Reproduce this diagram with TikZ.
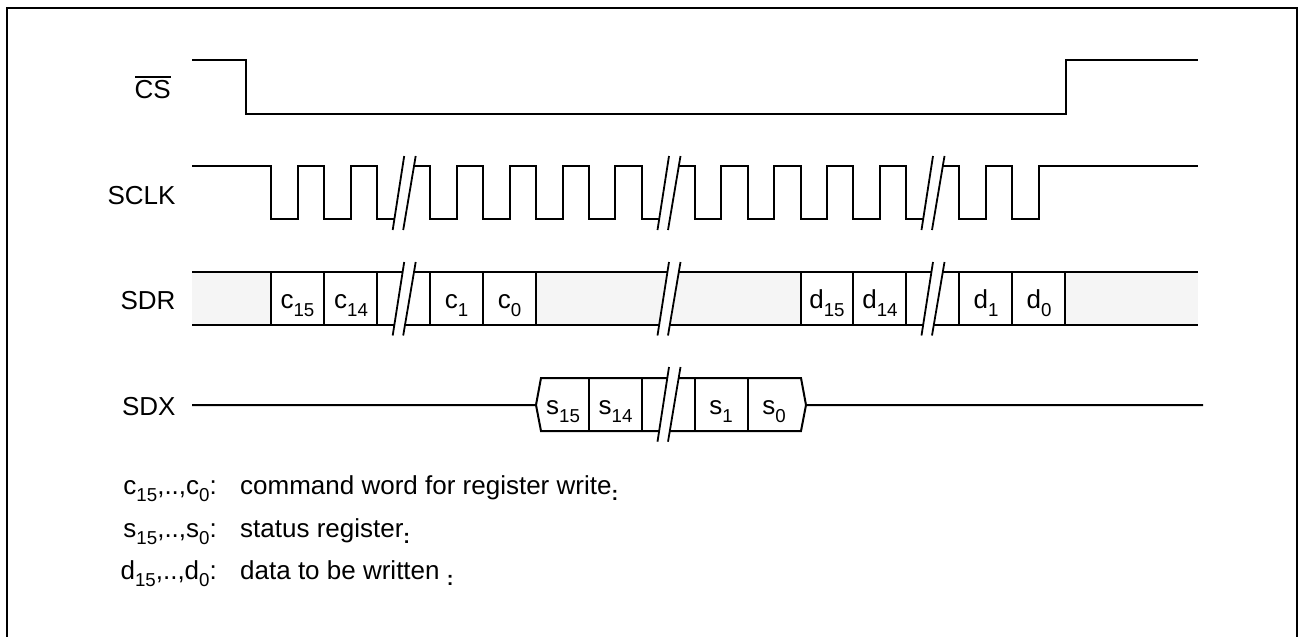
\documentclass[tikz,border=0pt]{standalone}
\usepackage{fontspec}
\setmainfont{Liberation Sans}
\newcommand{\lsub}[1]{\raisebox{-7.3pt}{\fontsize{18.7}{20}\selectfont #1}}
\newcommand{\tinycolon}{\raisebox{-6pt}{\fontsize{20}{22}\selectfont\bfseries :}}
\tikzset{
  x=1pt,y=-1pt,
  wave/.style={line width=2pt,line join=miter,line cap=butt},
  framel/.style={line width=2.4pt},
  busfill/.style={fill=black!4,draw=none},
  sig/.style={anchor=base east,inner sep=0pt,font=\fontsize{26}{30}\selectfont},
  cell/.style={anchor=base,inner sep=0pt,font=\fontsize{26}{30}\selectfont},
  legl/.style={anchor=base east,inner sep=0pt,font=\fontsize{26}{30}\selectfont},
  legt/.style={anchor=base west,inner sep=0pt,font=\fontsize{26}{30}\selectfont},
  brk/.style={line width=1.8pt},
  ticks/.style={line width=2pt}
}
\newcommand{\brkmark}[3]{% x-left, y-top, y-bottom
  \fill[white] (#1,#3) -- (#1+11.5,#2) -- (#1+23,#2) -- (#1+10.5,#3) -- cycle;
  \draw[brk] (#1,#3) -- (#1+11.5,#2);
  \draw[brk] (#1+10.5,#3) -- (#1+23,#2);
}
\begin{document}
\begin{tikzpicture}
\useasboundingbox (0,0) rectangle (1299,637);
% frame (open at the bottom)
\draw[framel] (7,637) -- (7,7.8) -- (1297,7.8) -- (1297,637);

% CS
\draw[wave] (192,60) -- (246,60) -- (246,114) -- (1066,114) -- (1066,60) -- (1197.5,60);
\node[sig] (lcs) at (171,98.3) {CS};
\draw[line width=1.6pt] (135,77) -- (171,77);

% SCLK
\draw[wave] (192,166) -- (271,166) -- (271,218.7) -- (297.5,218.7) -- (297.5,166) -- (324,166) -- (324,218.7) -- (351,218.7) -- (351,166) -- (377,166) -- (377,218.7) -- (394,218.7);
\draw[wave] (414,166) -- (430,166) -- (430,218.7) -- (456.5,218.7) -- (456.5,166) -- (483,166) -- (483,218.7) -- (509.5,218.7) -- (509.5,166) -- (536,166) -- (536,218.7) -- (562.5,218.7) -- (562.5,166) -- (589,166) -- (589,218.7) -- (615,218.7) -- (615,166) -- (642,166) -- (642,218.7) -- (659,218.7);
\draw[wave] (678,166) -- (695,166) -- (695,218.7) -- (721,218.7) -- (721,166) -- (748,166) -- (748,218.7) -- (774,218.7) -- (774,166) -- (801,166) -- (801,218.7) -- (827,218.7) -- (827,166) -- (853,166) -- (853,218.7) -- (880,218.7) -- (880,166) -- (906,166) -- (906,218.7) -- (923,218.7);
\draw[wave] (942,166) -- (959,166) -- (959,218.7) -- (986,218.7) -- (986,166) -- (1012,166) -- (1012,218.7) -- (1039,218.7) -- (1039,166) -- (1197.5,166);
\brkmark{392.7}{156}{230}
\brkmark{657.5}{156}{230}
\brkmark{921.5}{156}{230}
\node[sig] (lsclk) at (175.7,204) {SCLK};

% SDR
\fill[busfill] (192,272) rectangle (271,325);
\fill[busfill] (536,272) rectangle (801,325);
\fill[busfill] (1065,272) rectangle (1197.5,325);
\draw[wave] (192,272) -- (1197.5,272);
\draw[wave] (192,325) -- (1197.5,325);
\foreach \xv in {271,324,377,430,483,536,801,853,906,959,1012,1065}
  \draw[ticks] (\xv,272) -- (\xv,325);
\brkmark{392.7}{262}{335.5}
\brkmark{657.5}{262}{335.5}
\brkmark{921.5}{262}{335.5}
\node[sig] (lsdr) at (175.7,309.3) {SDR};
\node[cell] (c15) at (297.5,308.7) {c\lsub{15}};
\node[cell] (c14) at (351,308.7) {c\lsub{14}};
\node[cell] (c1) at (456.5,308.7) {c\lsub{1}};
\node[cell] (c0) at (509.5,308.7) {c\lsub{0}};
\node[cell] (d15) at (827,308.7) {d\lsub{15}};
\node[cell] (d14) at (880,308.7) {d\lsub{14}};
\node[cell] (d1) at (986,308.7) {d\lsub{1}};
\node[cell] (d0) at (1039,308.7) {d\lsub{0}};

% SDX
\draw[wave] (192,405) -- (536,405) -- (541,378) -- (801,378) -- (806,405) -- (1203,405);
\draw[wave] (536,405) -- (541,431) -- (801,431) -- (806,405);
\foreach \xv in {589,642,695,748}
  \draw[ticks] (\xv,378) -- (\xv,431);
\brkmark{657.5}{367}{441.7}
\node[sig] (lsdx) at (175.7,415) {SDX};
\node[cell] (s15) at (563,414.7) {s\lsub{15}};
\node[cell] (s14) at (615.5,414.7) {s\lsub{14}};
\node[cell] (s1) at (721,414.7) {s\lsub{1}};
\node[cell] (s0) at (774,414.7) {s\lsub{0}};

% legend
\node[legl] (l1) at (217,494) {c\lsub{15},..,c\lsub{0}:};
\node[legl] (l2) at (217,537) {s\lsub{15},..,s\lsub{0}:};
\node[legl] (l3) at (217,579) {d\lsub{15},..,d\lsub{0}:};
\node[legt] (t1) at (240,494) {command word for register write\tinycolon};
\node[legt] (t2) at (240,537) {status register\tinycolon};
\node[legt] (t3) at (240,579) {data to be written \tinycolon};
\end{tikzpicture}
\end{document}
